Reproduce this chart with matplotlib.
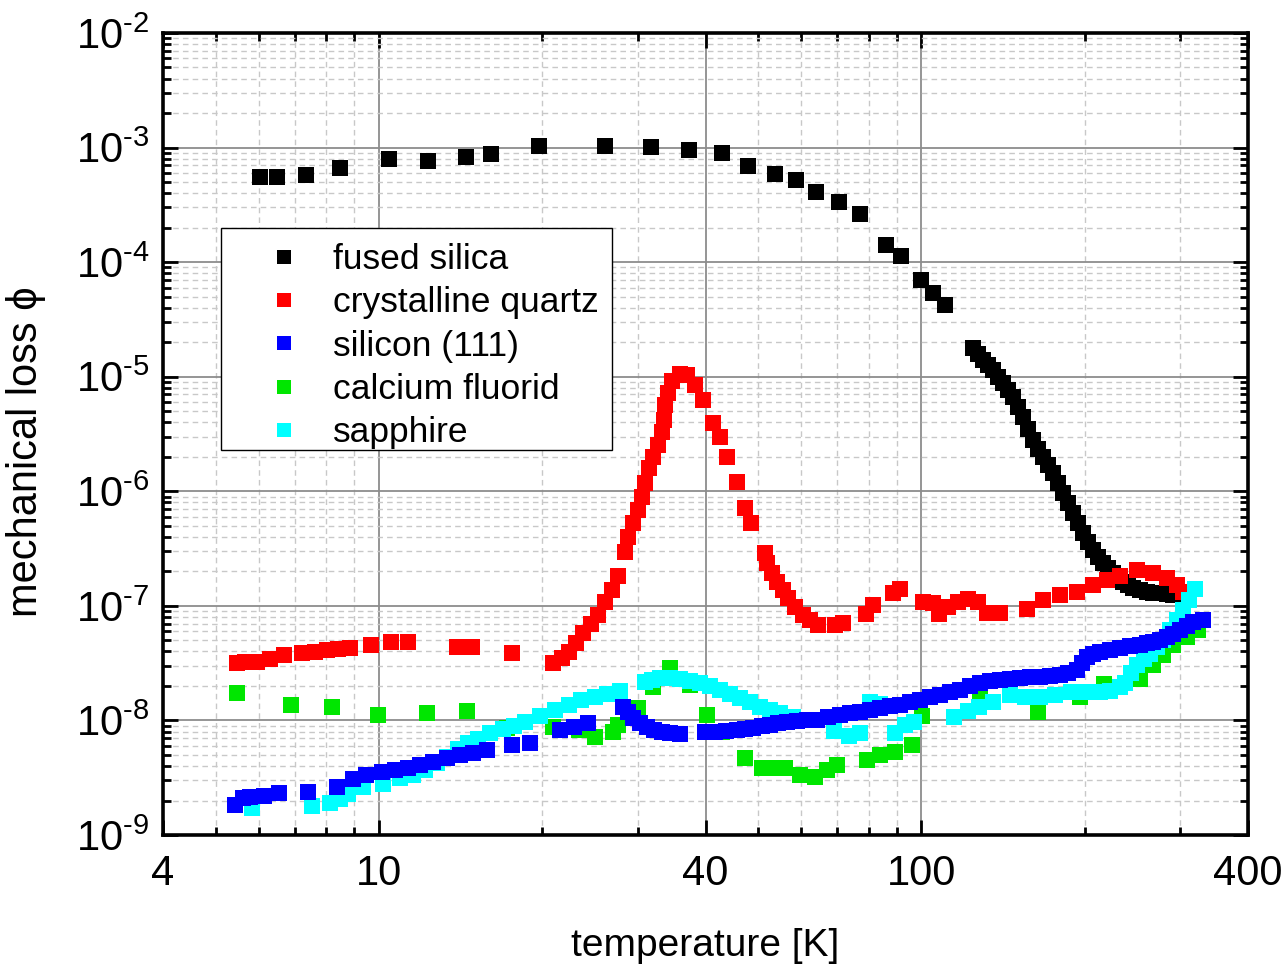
import matplotlib
matplotlib.use('Agg')
import matplotlib.pyplot as plt
from matplotlib.ticker import FixedLocator, FixedFormatter, NullFormatter
from matplotlib.lines import Line2D
from matplotlib.patches import Rectangle

plt.rcParams['font.family'] = ['Liberation Sans', 'DejaVu Sans']
plt.rcParams['mathtext.fontset'] = 'custom'
plt.rcParams['mathtext.rm'] = 'Liberation Sans'
plt.rcParams['mathtext.default'] = 'regular'

# fused silica
fs_T = [6.04, 6.49, 7.34, 8.48, 10.44, 12.32, 14.47, 16.09, 19.7, 26.1, 31.7, 37.3,
        42.9, 47.9, 53.7, 58.7, 63.9, 70.5, 77.1, 86.0, 91.7, 100.0, 105.1, 110.5,
        124.5, 127.2, 129.9, 132.7, 135.5, 138.4, 141.4, 144.4, 147.5, 150.7, 153.9,
        157.2, 160.6, 164.1, 167.6, 171.2, 174.8, 178.6, 182.4, 186.3, 190.3, 194.4,
        198.6, 202.8, 207.2, 211.6, 216.2, 220.8, 225.5, 230.4, 235.3, 240.4, 245.5,
        252.9, 260.5, 267.3, 275.3, 283.6, 291.0, 299.7]
fs_phi = [5.53e-4, 5.53e-4, 5.76e-4, 6.63e-4, 7.95e-4, 7.63e-4, 8.27e-4, 8.79e-4,
          1.03e-3, 1.03e-3, 1.01e-3, 9.52e-4, 8.97e-4, 6.91e-4, 5.88e-4, 5.21e-4,
          4.09e-4, 3.35e-4, 2.63e-4, 1.41e-4, 1.13e-4, 6.98e-5, 5.38e-5, 4.22e-5,
          1.78e-5, 1.58e-5, 1.40e-5, 1.27e-5, 1.14e-5, 9.94e-6, 8.81e-6, 7.66e-6,
          6.65e-6, 5.44e-6, 4.45e-6, 3.50e-6, 2.80e-6, 2.34e-6, 1.99e-6, 1.70e-6,
          1.44e-6, 1.18e-6, 9.66e-7, 7.90e-7, 6.46e-7, 5.29e-7, 4.32e-7, 3.61e-7,
          3.07e-7, 2.67e-7, 2.37e-7, 2.14e-7, 1.94e-7, 1.75e-7, 1.61e-7, 1.52e-7,
          1.43e-7, 1.38e-7, 1.32e-7, 1.30e-7, 1.30e-7, 1.27e-7, 1.24e-7, 1.24e-7]

# crystalline quartz
cq_T = [5.48, 5.67, 5.96, 6.30, 6.69, 7.22, 7.62, 8.02, 8.41, 8.85, 9.67, 10.53, 11.32,
        13.93, 14.85, 17.60, 20.94, 21.75, 22.41, 23.09, 23.78, 24.60, 25.34, 26.11,
        26.90, 27.59, 28.42, 28.79, 29.40, 30.04, 30.55, 30.94, 31.47, 32.01, 32.70,
        33.26, 33.54, 33.69, 34.12, 34.70, 35.90, 36.98, 38.24, 39.56, 41.28, 42.52,
        43.81, 45.72, 47.30, 48.52, 51.48, 51.92, 53.04, 54.18, 55.57, 56.76, 58.48,
        60.51, 62.34, 64.50, 69.31, 71.70, 79.06, 81.44, 88.63, 91.32, 100.7, 105.1,
        107.8, 111.9, 116.8, 121.9, 127.2, 132.1, 139.6, 156.5, 167.6, 180.1, 193.6,
        207.2, 219.9, 232.3, 249.7, 267.3, 283.6, 295.9, 303.5]
cq_phi = [3.17e-8, 3.24e-8, 3.24e-8, 3.44e-8, 3.72e-8, 3.88e-8, 3.95e-8, 4.12e-8,
          4.20e-8, 4.29e-8, 4.55e-8, 4.84e-8, 4.84e-8, 4.37e-8, 4.37e-8, 3.88e-8,
          3.17e-8, 3.51e-8, 3.95e-8, 4.74e-8, 5.80e-8, 6.95e-8, 8.32e-8, 1.08e-7,
          1.38e-7, 1.82e-7, 2.95e-7, 3.99e-7, 5.29e-7, 6.87e-7, 8.92e-7, 1.18e-6,
          1.60e-6, 1.99e-6, 2.54e-6, 3.29e-6, 4.19e-6, 5.66e-6, 7.21e-6, 9.18e-6,
          1.06e-5, 1.04e-5, 8.47e-6, 6.26e-6, 3.94e-6, 2.98e-6, 1.99e-6, 1.21e-6,
          7.15e-7, 5.29e-7, 2.89e-7, 2.37e-7, 1.94e-7, 1.61e-7, 1.38e-7, 1.17e-7,
          9.77e-8, 8.32e-8, 7.52e-8, 6.81e-8, 6.81e-8, 7.09e-8, 8.49e-8, 1.02e-7,
          1.30e-7, 1.40e-7, 1.08e-7, 1.06e-7, 8.49e-8, 9.77e-8, 1.08e-7, 1.15e-7,
          1.08e-7, 8.66e-8, 8.66e-8, 9.39e-8, 1.12e-7, 1.24e-7, 1.32e-7, 1.52e-7,
          1.68e-7, 1.82e-7, 2.06e-7, 1.94e-7, 1.75e-7, 1.52e-7, 1.32e-7]

# silicon (111)
si_T = [5.43, 5.62, 5.79, 6.14, 6.54, 7.40, 8.37, 8.96, 9.47, 10.13, 10.71, 11.32, 11.91,
        12.58, 13.35, 14.11, 14.91, 15.83, 17.60, 18.99, 21.57, 22.89, 24.29, 28.18,
        28.79, 29.40, 30.29, 31.20, 32.15, 33.26, 34.41, 35.90, 39.92, 41.65, 43.63,
        45.72, 47.30, 48.94, 50.83, 52.60, 54.41, 56.53, 58.98, 61.55, 64.21, 67.28,
        70.79, 73.86, 77.07, 80.41, 83.91, 87.53, 91.32, 95.28, 99.41, 103.7, 108.2,
        112.9, 117.8, 122.9, 128.3, 133.8, 139.6, 145.7, 152.0, 158.6, 165.4, 172.6,
        180.1, 186.3, 193.6, 197.8, 202.0, 207.2, 213.4, 222.7, 232.3, 242.4, 252.9,
        260.5, 267.3, 275.3, 283.6, 291.0, 299.7, 308.7, 316.7, 330.4]
si_phi = [1.83e-9, 2.10e-9, 2.15e-9, 2.19e-9, 2.33e-9, 2.37e-9, 2.62e-9, 3.08e-9,
          3.34e-9, 3.55e-9, 3.69e-9, 3.84e-9, 4.08e-9, 4.34e-9, 4.70e-9, 4.99e-9,
          5.20e-9, 5.52e-9, 6.10e-9, 6.35e-9, 8.25e-9, 8.76e-9, 9.49e-9, 1.31e-8,
          1.18e-8, 1.05e-8, 9.49e-9, 8.76e-9, 8.25e-9, 7.92e-9, 7.77e-9, 7.62e-9,
          7.92e-9, 7.92e-9, 8.09e-9, 8.25e-9, 8.42e-9, 8.59e-9, 8.94e-9, 9.12e-9,
          9.49e-9, 9.69e-9, 9.89e-9, 1.01e-8, 1.01e-8, 1.07e-8, 1.12e-8, 1.16e-8,
          1.18e-8, 1.23e-8, 1.28e-8, 1.34e-8, 1.36e-8, 1.45e-8, 1.51e-8, 1.60e-8,
          1.67e-8, 1.77e-8, 1.84e-8, 2.00e-8, 2.12e-8, 2.21e-8, 2.25e-8, 2.30e-8,
          2.35e-8, 2.39e-8, 2.39e-8, 2.44e-8, 2.49e-8, 2.59e-8, 2.75e-8, 3.17e-8,
          3.58e-8, 3.80e-8, 3.95e-8, 4.12e-8, 4.29e-8, 4.46e-8, 4.55e-8, 4.74e-8,
          4.84e-8, 5.03e-8, 5.35e-8, 5.68e-8, 6.16e-8, 6.67e-8, 7.23e-8, 7.52e-8]

# calcium fluorid
caf_T = [5.48, 6.89, 8.20, 9.96, 12.27, 14.53, 17.23, 20.94, 23.38, 25.02, 27.02, 27.59,
         30.04, 32.01, 34.41, 37.45, 40.26, 42.9, 47.30, 50.83, 54.18, 56.05, 59.74,
         63.67, 66.99, 69.91, 79.41, 83.91, 89.40, 96.09, 100.3, 128.3, 164.0, 196.0,
         217.0, 252.9, 267.3, 278.8, 291.0, 308.7, 323.5]
caf_phi = [1.74e-8, 1.36e-8, 1.31e-8, 1.12e-8, 1.16e-8, 1.21e-8, 8.59e-9, 8.76e-9,
           8.25e-9, 7.17e-9, 7.92e-9, 9.12e-9, 1.28e-8, 1.96e-8, 2.87e-8, 2.04e-8,
           1.12e-8, 7.92e-9, 4.70e-9, 3.84e-9, 3.84e-9, 3.84e-9, 3.34e-9, 3.21e-9,
           3.69e-9, 4.08e-9, 4.51e-9, 4.99e-9, 5.30e-9, 6.10e-9, 1.09e-8, 1.60e-8,
           1.18e-8, 1.60e-8, 2.08e-8, 2.30e-8, 3.05e-8, 3.72e-8, 4.55e-8, 5.35e-8,
           6.16e-8]

# sapphire
sa_T = [5.84, 7.53, 8.13, 8.48, 8.77, 9.35, 10.18, 10.94, 11.56, 12.16, 12.80, 13.35,
        13.99, 14.59, 15.23, 16.03, 16.93, 17.75, 18.59, 19.82, 21.12, 22.41, 23.58,
        25.02, 26.33, 27.82, 30.94, 31.87, 32.97, 34.41, 35.90, 37.45, 39.07, 40.76,
        42.52, 44.39, 46.31, 48.32, 50.41, 52.60, 54.87, 58.00, 69.03, 73.54, 77.07,
        80.41, 83.91, 89.40, 93.28, 96.91, 114.8, 121.9, 127.7, 135.5, 145.7, 155.2,
        165.4, 176.3, 188.7, 200.3, 213.4, 222.7, 232.3, 237.3, 243.4, 249.7, 257.2,
        264.0, 271.9, 278.8, 287.2, 295.9, 303.5, 311.4, 319.4]
sa_phi = [1.72e-9, 1.79e-9, 1.90e-9, 2.06e-9, 2.28e-9, 2.62e-9, 2.79e-9, 3.14e-9,
          3.34e-9, 3.69e-9, 4.25e-9, 4.80e-9, 5.60e-9, 6.40e-9, 6.90e-9, 7.77e-9,
          8.42e-9, 8.94e-9, 9.69e-9, 1.09e-8, 1.23e-8, 1.36e-8, 1.51e-8, 1.60e-8,
          1.70e-8, 1.81e-8, 2.16e-8, 2.25e-8, 2.35e-8, 2.35e-8, 2.30e-8, 2.21e-8,
          2.12e-8, 2.00e-8, 1.84e-8, 1.70e-8, 1.57e-8, 1.45e-8, 1.31e-8, 1.23e-8,
          1.16e-8, 1.07e-8, 8.09e-9, 7.31e-9, 7.77e-9, 1.45e-8, 1.39e-8, 7.77e-9,
          9.12e-9, 9.69e-9, 1.07e-8, 1.21e-8, 1.31e-8, 1.45e-8, 1.67e-8, 1.60e-8,
          1.60e-8, 1.67e-8, 1.77e-8, 1.77e-8, 1.77e-8, 1.81e-8, 1.96e-8, 2.12e-8,
          2.59e-8, 3.05e-8, 3.44e-8, 3.80e-8, 4.37e-8, 5.03e-8, 6.16e-8, 7.52e-8,
          9.20e-8, 1.12e-7, 1.40e-7]

labels = ['fused silica', 'crystalline quartz', 'silicon (111)', 'calcium fluorid', 'sapphire']
colors = ['#000000', '#ff0000', '#0000ff', '#00e600', '#00ffff']

x_major = [4, 10, 40, 100, 400]
x_minor = [5, 6, 7, 8, 9, 20, 30, 50, 60, 70, 80, 90, 200, 300]
y_major = [1e-9, 1e-8, 1e-7, 1e-6, 1e-5, 1e-4, 1e-3, 1e-2]
# hyphen instead of a long minus, as in the original labels
y_labels = ['$10^{\u2010%d}$' % k for k in range(9, 1, -1)]

fig = plt.figure(figsize=(12.87, 9.64), dpi=100)
ax = fig.add_axes([0.1267, 0.1338, 0.8430, 0.8320])
ax.set_xscale('log')
ax.set_yscale('log')
ax.set_xlim(4, 400)
ax.set_ylim(1e-9, 1e-2)

ms = 11.5
# draw order so that blue sits on top, as in the original
ax.plot(fs_T, fs_phi, 's', color=colors[0], ms=ms, mew=0, zorder=3)
ax.plot(cq_T, cq_phi, 's', color=colors[1], ms=ms, mew=0, zorder=4)
ax.plot(caf_T, caf_phi, 's', color=colors[3], ms=ms, mew=0, zorder=5)
ax.plot(sa_T, sa_phi, 's', color=colors[4], ms=ms, mew=0, zorder=6)
ax.plot(si_T, si_phi, 's', color=colors[2], ms=ms, mew=0, zorder=7)

ax.xaxis.set_major_locator(FixedLocator(x_major))
ax.xaxis.set_major_formatter(FixedFormatter([str(v) for v in x_major]))
ax.xaxis.set_minor_locator(FixedLocator(x_minor))
ax.xaxis.set_minor_formatter(NullFormatter())
ax.yaxis.set_major_locator(FixedLocator(y_major))
ax.yaxis.set_major_formatter(FixedFormatter(y_labels))
y_minor = [m * 10.0 ** e for e in range(-9, -2) for m in range(2, 10)]
ax.yaxis.set_minor_locator(FixedLocator(y_minor))
ax.yaxis.set_minor_formatter(NullFormatter())

ax.grid(True, which='major', color='#8c8c8c', lw=1.3, ls='-', zorder=1)
ax.grid(True, which='minor', color='#c8c8c8', lw=1.0, ls=(0, (4, 3)), zorder=1)
ax.set_axisbelow(True)

for s in ax.spines.values():
    s.set_linewidth(2.6)
ax.tick_params(which='both', direction='in', top=True, right=True, width=2)
ax.tick_params(which='major', length=11)
ax.tick_params(which='minor', length=6)
ax.tick_params(axis='x', which='major', labelsize=30, pad=14)
ax.tick_params(axis='y', which='major', labelsize=30, pad=10)

ax.set_xlabel('temperature [K]', fontsize=28, labelpad=24)
ax.set_ylabel('mechanical loss \u03d5', fontsize=30)
ax.yaxis.set_label_coords(-0.108, 0.478)

# legend box drawn separately so the entries can sit a bit lower inside it
ax.add_patch(Rectangle((0.0535, 0.480), 0.3604, 0.2768, transform=ax.transAxes,
                       facecolor='white', edgecolor='black', lw=1.0, zorder=9))
handles = [Line2D([], [], ls='none', marker='s', ms=10, mew=0, color=c) for c in colors]
leg = ax.legend(handles, labels, loc='upper left', bbox_to_anchor=(0.0571, 0.7494),
                borderaxespad=0, fontsize=25.5, frameon=False,
                handlelength=2.8, handletextpad=0.0,
                labelspacing=0.29, borderpad=0.26, numpoints=1)
leg.set_zorder(10)

fig.savefig('out.png', dpi=100)
